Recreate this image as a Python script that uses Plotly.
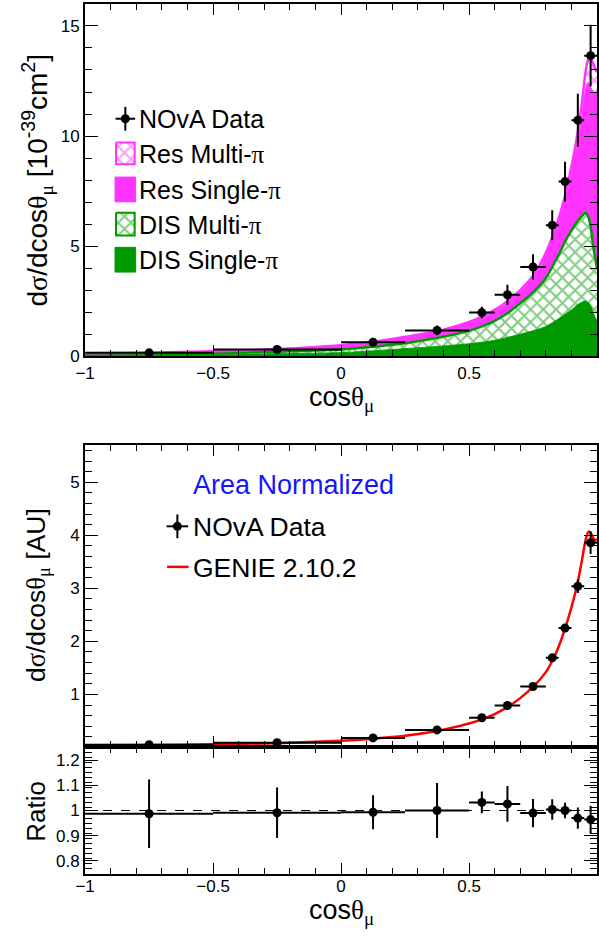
import numpy as np
import plotly.graph_objects as go

# ---------------- measured data (cos theta_mu bins) ----------------
bin_lo = [-1.0, -0.5, 0.0, 0.25, 0.5, 0.6, 0.7, 0.8, 0.85, 0.9, 0.95]
bin_hi = [-0.5, 0.0, 0.25, 0.5, 0.6, 0.7, 0.8, 0.85, 0.9, 0.95, 1.0]

# absolute cross section [1e-39 cm^2]
xsec = [0.15, 0.30, 0.63, 1.17, 1.98, 2.79, 4.05, 5.95, 7.93, 10.72, 13.65]
xsec_err = [0.03, 0.04, 0.06, 0.22, 0.26, 0.45, 0.58, 0.68, 0.90, 1.20, 1.40]

# area-normalised shape [AU]
shape = [0.05, 0.09, 0.18, 0.33, 0.56, 0.79, 1.15, 1.69, 2.25, 3.04, 3.86]
shape_err = [0.007, 0.009, 0.012, 0.036, 0.024, 0.056, 0.064, 0.069, 0.070, 0.128, 0.210]

# data / GENIE
ratio = [0.987, 0.991, 0.993, 1.000, 1.032, 1.026, 0.990, 1.004, 1.000, 0.970, 0.964]
ratio_err = [0.136, 0.100, 0.067, 0.109, 0.043, 0.071, 0.056, 0.041, 0.031, 0.042, 0.055]

# ---------------- GENIE prediction split by channel ----------------
cos_mc = [-1.0, -0.75, -0.5, -0.25, 0.0, 0.1, 0.2, 0.3, 0.4, 0.5, 0.55, 0.6, 0.65,
          0.7, 0.75, 0.8, 0.85, 0.875, 0.9, 0.925, 0.94, 0.955, 0.965, 0.975,
          0.985, 0.995, 1.0]
dis_single = [0.05, 0.06, 0.08, 0.11, 0.16, 0.22, 0.30, 0.38, 0.46, 0.56, 0.63, 0.72, 0.85,
              1.00, 1.15, 1.35, 1.70, 1.90, 2.10, 2.35, 2.45, 2.50, 2.45, 2.30,
              2.00, 1.70, 1.60]
dis_multi = [0.03, 0.04, 0.05, 0.09, 0.14, 0.18, 0.22, 0.30, 0.42, 0.59, 0.72, 0.88, 1.10,
             1.40, 1.75, 2.20, 2.90, 3.30, 3.60, 3.80, 3.90, 4.00, 3.90, 3.60,
             3.00, 2.60, 2.40]
res_single = [0.04, 0.05, 0.08, 0.10, 0.18, 0.19, 0.23, 0.25, 0.27, 0.34, 0.38, 0.42, 0.46,
              0.50, 0.63, 1.00, 1.45, 1.85, 2.60, 3.65, 4.50, 5.60, 6.10, 6.30,
              7.05, 7.65, 7.95]
res_multi = [0.01, 0.01, 0.01, 0.02, 0.02, 0.03, 0.03, 0.04, 0.05, 0.06, 0.07, 0.08, 0.09,
             0.10, 0.12, 0.15, 0.20, 0.25, 0.30, 0.40, 0.55, 0.80, 1.00, 1.30,
             1.25, 1.05, 0.95]

# GENIE 2.10.2, area normalised
cos_genie = [-1.0, -0.75, -0.5, -0.25, 0.0, 0.125, 0.25, 0.375, 0.45, 0.5, 0.55, 0.6, 0.65,
             0.7, 0.75, 0.8, 0.825, 0.85, 0.875, 0.9, 0.925, 0.94, 0.95, 0.96, 0.967,
             0.975, 0.985, 0.993, 1.0]
genie_shape = [0.040, 0.046, 0.058, 0.080, 0.125, 0.165, 0.220, 0.310, 0.390, 0.450, 0.530,
               0.630, 0.760, 0.930, 1.140, 1.420, 1.630, 1.900, 2.240, 2.640, 3.120, 3.500,
               3.780, 4.000, 4.070, 4.050, 3.950, 3.900, 3.930]

# ---------------- styling ----------------
FONT = "Liberation Sans"
GREEN = "#009900"
MAGENTA = "#ff33ff"
RED = "#ff0000"
W, H = 599, 936


def px(x):
    return x / W


def py(y):
    return 1 - y / H


centers = [(a + b) / 2 for a, b in zip(bin_lo, bin_hi)]
halfw = [(b - a) / 2 for a, b in zip(bin_lo, bin_hi)]

fig = go.Figure()

# stacked channel contributions
c1 = np.array(dis_single)
c2 = c1 + np.array(dis_multi)
c3 = c2 + np.array(res_single)
c4 = c3 + np.array(res_multi)

sm = 0.7
hatch_green = dict(shape="x", fgcolor=GREEN, bgcolor="white", size=9, solidity=0.4)
hatch_magenta = dict(shape="x", fgcolor=MAGENTA, bgcolor="white", size=9, solidity=0.4)

fig.add_trace(go.Scatter(x=cos_mc, y=c1, mode="lines", line=dict(color=GREEN, width=1, shape="spline", smoothing=sm),
                         fill="tozeroy", fillcolor=GREEN, xaxis="x", yaxis="y", hoverinfo="skip"))
fig.add_trace(go.Scatter(x=cos_mc, y=c2, mode="lines", line=dict(color=GREEN, width=2.5, shape="spline", smoothing=sm),
                         fill="tonexty", fillcolor="white", fillpattern=hatch_green,
                         xaxis="x", yaxis="y", hoverinfo="skip"))
fig.add_trace(go.Scatter(x=cos_mc, y=c3, mode="lines", line=dict(color=MAGENTA, width=1, shape="spline", smoothing=sm),
                         fill="tonexty", fillcolor=MAGENTA, xaxis="x", yaxis="y", hoverinfo="skip"))
fig.add_trace(go.Scatter(x=cos_mc, y=c4, mode="lines", line=dict(color=MAGENTA, width=2.5, shape="spline", smoothing=sm),
                         fill="tonexty", fillcolor="white", fillpattern=hatch_magenta,
                         xaxis="x", yaxis="y", hoverinfo="skip"))


def data_trace(y, yerr, xa, ya):
    return go.Scatter(
        x=centers, y=y, mode="markers", xaxis=xa, yaxis=ya,
        marker=dict(color="black", size=9),
        error_x=dict(type="data", array=halfw, color="black", thickness=2, width=0),
        error_y=dict(type="data", array=yerr, color="black", thickness=2, width=0),
        hoverinfo="skip")


fig.add_trace(data_trace(xsec, xsec_err, "x", "y"))

# area-normalised comparison
fig.add_trace(go.Scatter(x=cos_genie, y=genie_shape, mode="lines", xaxis="x2", yaxis="y2",
                         line=dict(color=RED, width=2.5, shape="spline", smoothing=0.6), hoverinfo="skip"))
fig.add_trace(data_trace(shape, shape_err, "x2", "y2"))

# ratio
fig.add_trace(data_trace(ratio, ratio_err, "x3", "y3"))

# ---------------- legends drawn in figure pixel space ----------------
def box(x0, y0, x1, y1, **kw):
    fig.add_trace(go.Scatter(x=[x0, x1, x1, x0, x0], y=[y0, y0, y1, y1, y0], mode="lines",
                             fill="toself", xaxis="x4", yaxis="y4", hoverinfo="skip", **kw))


# NOvA Data marker
fig.add_trace(go.Scatter(x=[117.5], y=[120], mode="markers", xaxis="x4", yaxis="y4",
                         marker=dict(color="black", size=9),
                         error_x=dict(type="constant", value=10, color="black", thickness=2, width=0),
                         error_y=dict(type="constant", value=12, color="black", thickness=2, width=0),
                         hoverinfo="skip"))
box(108, 144, 127, 166, line=dict(color=MAGENTA, width=2), fillcolor="white", fillpattern=hatch_magenta)
box(107, 179, 128, 204, line=dict(color=MAGENTA, width=1), fillcolor=MAGENTA)
box(108, 215, 127, 238, line=dict(color=GREEN, width=2), fillcolor="white", fillpattern=hatch_green)
box(107, 250, 128, 275, line=dict(color=GREEN, width=1), fillcolor=GREEN)

# bottom legend
fig.add_trace(go.Scatter(x=[170.5], y=[532], mode="markers", xaxis="x4", yaxis="y4",
                         marker=dict(color="black", size=9),
                         error_x=dict(type="constant", value=11, color="black", thickness=2, width=0),
                         error_y=dict(type="constant", value=12, color="black", thickness=2, width=0),
                         hoverinfo="skip"))
fig.add_trace(go.Scatter(x=[160, 182], y=[573, 573], mode="lines", xaxis="x4", yaxis="y4",
                         line=dict(color=RED, width=2.5), hoverinfo="skip"))

PI = "<span style='font-family:Liberation Serif'>π</span>"
TH = "<span style='font-family:Liberation Serif'>θ</span>"
MU = "<sub><span style='font-family:Liberation Serif'>μ</span></sub>"
SG = "<span style='font-family:Liberation Serif'>σ</span>"

annotations = []


def text(x, y, s, size, color="black", angle=0, xanchor="left"):
    annotations.append(dict(x=px(x), y=py(y), xref="paper", yref="paper", text=s, showarrow=False,
                            xanchor=xanchor, yanchor="middle", textangle=angle,
                            font=dict(family=FONT, size=size, color=color)))


text(129, 120, "NOvA Data", 25)
text(129, 156, "Res Multi-" + PI, 25)
text(129, 192, "Res Single-" + PI, 25)
text(129, 227, "DIS Multi-" + PI, 25)
text(129, 263, "DIS Single-" + PI, 25)

text(184, 490, "Area Normalized", 27, color="#1414ff")
text(184, 533, "NOvA Data", 26.5)
text(184, 574, "GENIE 2.10.2", 26.5)

# axis titles
text(28, 182, "d" + SG + "/dcos" + TH + MU + " [10<sup>-39</sup>cm<sup>2</sup>]", 28, angle=-90, xanchor="center")
text(28, 601, "d" + SG + "/dcos" + TH + MU + " [AU]", 26.5, angle=-90, xanchor="center")
text(27, 820, "Ratio", 26, angle=-90, xanchor="center")
text(338, 403, "cos" + TH + MU, 27, xanchor="center")
text(338, 922, "cos" + TH + MU, 27, xanchor="center")

# ---------------- axes ----------------
xdom = [px(76.5), px(598)]
tickfont = dict(family=FONT, size=17, color="black")


def xax(domain_anchor, labels, standoff=0):
    return dict(domain=xdom, anchor=domain_anchor, range=[-1, 1], tick0=-1, dtick=0.5,
                ticks="inside", ticklen=11, tickwidth=1, tickcolor="black",
                minor=dict(dtick=0.1, tick0=-1, ticks="inside", ticklen=6, tickcolor="black"),
                showline=True, linewidth=2, linecolor="black", mirror="allticks",
                showgrid=False, zeroline=False, showticklabels=labels, tickfont=tickfont,
                ticklabelstandoff=standoff, fixedrange=True)


def yax(domain, rng, tickvals, ticktext, minor_dtick, minor0, anchor):
    return dict(domain=domain, anchor=anchor, range=rng, tickvals=tickvals, ticktext=ticktext,
                ticks="inside", ticklen=13, tickwidth=1, tickcolor="black",
                minor=dict(dtick=minor_dtick, tick0=minor0, ticks="inside", ticklen=7, tickcolor="black"),
                showline=True, linewidth=2, linecolor="black", mirror="allticks",
                showgrid=False, zeroline=False, tickfont=tickfont, fixedrange=True)


fig.update_layout(
    width=W, height=H, margin=dict(l=0, r=0, t=0, b=0),
    paper_bgcolor="white", plot_bgcolor="rgba(0,0,0,0)", showlegend=False,
    font=dict(family=FONT, color="black"),
    xaxis=xax("y", True, 0),
    yaxis=yax([py(360), py(4)], [0, 16], [0, 5, 10, 15], ["0", "5", "10", "15"], 1, 0, "x"),
    xaxis2=xax("y2", False),
    yaxis2=yax([py(755.5), py(450)], [0, 5.7], [1, 2, 3, 4, 5], ["1", "2", "3", "4", "5"], 0.2, 0, "x2"),
    xaxis3=xax("y3", True, -4),
    yaxis3=yax([py(883), py(755.5)], [0.75, 1.25], [0.8, 0.9, 1.0, 1.1, 1.2],
               ["0.8", "0.9", "1", "1.1", "1.2"], 0.02, 0.75, "x3"),
    xaxis4=dict(domain=[0, 1], anchor="y4", range=[0, W], visible=False, fixedrange=True),
    yaxis4=dict(domain=[0, 1], anchor="x4", range=[H, 0], visible=False, fixedrange=True),
    annotations=annotations,
    shapes=[dict(type="line", xref="x3", yref="y3", x0=-1, x1=1, y0=1, y1=1,
                 line=dict(color="black", width=1, dash="dash"), layer="below")],
)

fig.write_html("out.html")
